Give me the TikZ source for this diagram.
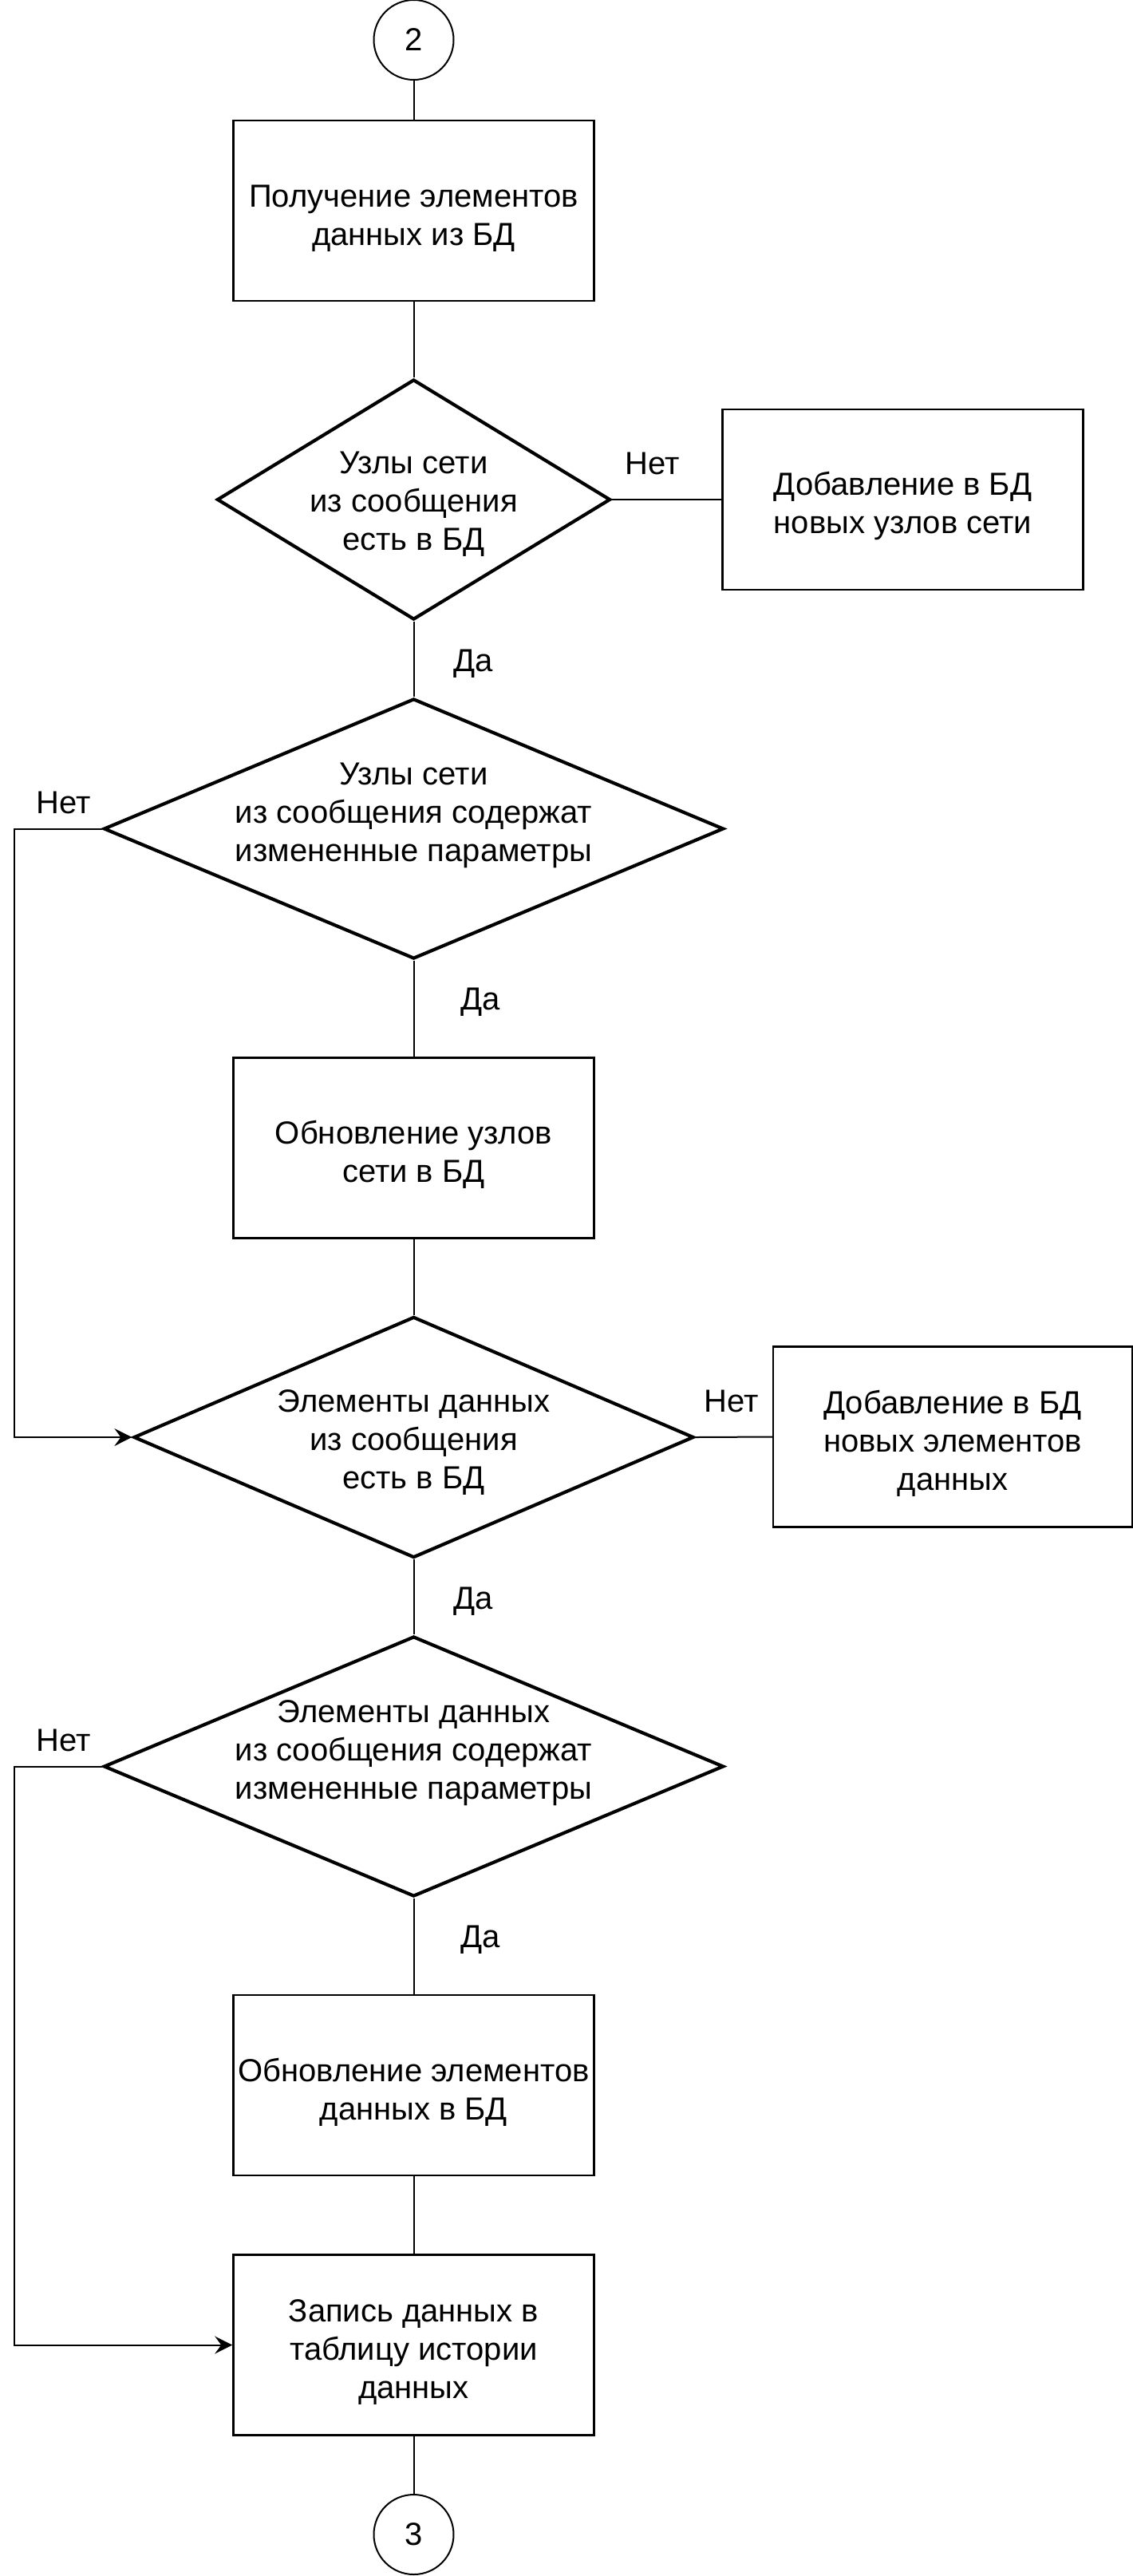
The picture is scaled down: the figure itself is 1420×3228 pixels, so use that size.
\documentclass[tikz,border=0pt]{standalone}
\usepackage{fontspec}
\setmainfont{Liberation Sans}
\usetikzlibrary{shapes.geometric,arrows.meta}
\newcommand\myupstrut{\rule{0pt}{46pt}}
\tikzset{
  box/.style={draw, line width=2.5pt, minimum width=452pt, minimum height=226pt, inner sep=0pt, align=center},
  dia/.style={draw, diamond, line width=4.2pt, inner sep=0pt},
  diatext/.style={align=center, inner sep=0pt},
  term/.style={draw, circle, line width=2pt, minimum size=100pt, inner sep=0pt},
  conn/.style={line width=2pt},
  arr/.style={conn, -{Stealth[length=22pt, width=22pt, inset=8pt]}},
  lbl/.style={inner sep=0pt}
}
\begin{document}
\begin{tikzpicture}[x=1pt, y=-1pt, font=\fontsize{40}{48}\selectfont]
\useasboundingbox (0,0) rectangle (1420,3228);
% terminators
\node[term] (c2) at (518.5,50) {2};
\node[term] (c3) at (518.5,3176) {3};
% boxes
\node[box] (b1) at (518.5,264) {\myupstrut Получение элементов\\данных из БД};
\node[box] (r1) at (1131.5,626) {\myupstrut Добавление в БД\\новых узлов сети};
\node[box] (b2) at (518.5,1438.5) {\myupstrut Обновление узлов\\сети в БД};
\node[box, minimum width=450pt] (r2) at (1194,1800.5) {\myupstrut Добавление в БД\\новых элементов\\данных};
\node[box] (b3) at (518.5,2613) {\myupstrut Обновление элементов\\данных в БД};
\node[box] (b4) at (518.5,2938.5) {\myupstrut Запись данных в\\таблицу истории\\данных};
% diamonds
\node[dia, minimum width=493pt, minimum height=301pt] (d1) at (518.5,626) {};
\node[diatext] (d1t) at (518.5,632) {Узлы сети\\из сообщения\\есть в БД};
\node[dia, minimum width=777pt, minimum height=326pt] (d2) at (518.5,1038.5) {};
\node[diatext] (d2t) at (518.5,1022) {Узлы сети\\из сообщения содержат\\измененные параметры};
\node[dia, minimum width=702pt, minimum height=302pt] (d3) at (518.5,1801) {};
\node[diatext] (d3t) at (518.5,1807) {Элементы данных\\из сообщения\\есть в БД};
\node[dia, minimum width=777pt, minimum height=326pt] (d4) at (518.5,2213.5) {};
\node[diatext] (d4t) at (518.5,2197) {Элементы данных\\из сообщения содержат\\измененные параметры};
% labels
\node[lbl] (n1) at (818,581) {Нет};
\node[lbl] (y1) at (593,832) {Да};
\node[lbl] (n2) at (80,1006) {Нет};
\node[lbl] (y2) at (602,1256) {Да};
\node[lbl] (n3) at (917,1756) {Нет};
\node[lbl] (y3) at (593,2007) {Да};
\node[lbl] (n4) at (80,2181) {Нет};
\node[lbl] (y4) at (602,2431) {Да};
% loop corners
\coordinate (L1) at (18,1038.5);
\coordinate (L2) at (18,2213.5);
% connectors
\draw[conn] (c2) -- (b1);
\draw[conn] (b1) -- (d1.north);
\draw[conn] (d1.east) -- (r1.west);
\draw[conn] (d1.south) -- (d2.north);
\draw[arr] (d2.west) -- (L1) |- (d3.west);
\draw[conn] (d2.south) -- (b2);
\draw[conn] (b2) -- (d3.north);
\draw[conn] (d3.east) -- (r2.west);
\draw[conn] (d3.south) -- (d4.north);
\draw[arr] (d4.west) -- (L2) |- (b4.west);
\draw[conn] (d4.south) -- (b3);
\draw[conn] (b3) -- (b4);
\draw[conn] (b4) -- (c3);
\end{tikzpicture}
\end{document}
